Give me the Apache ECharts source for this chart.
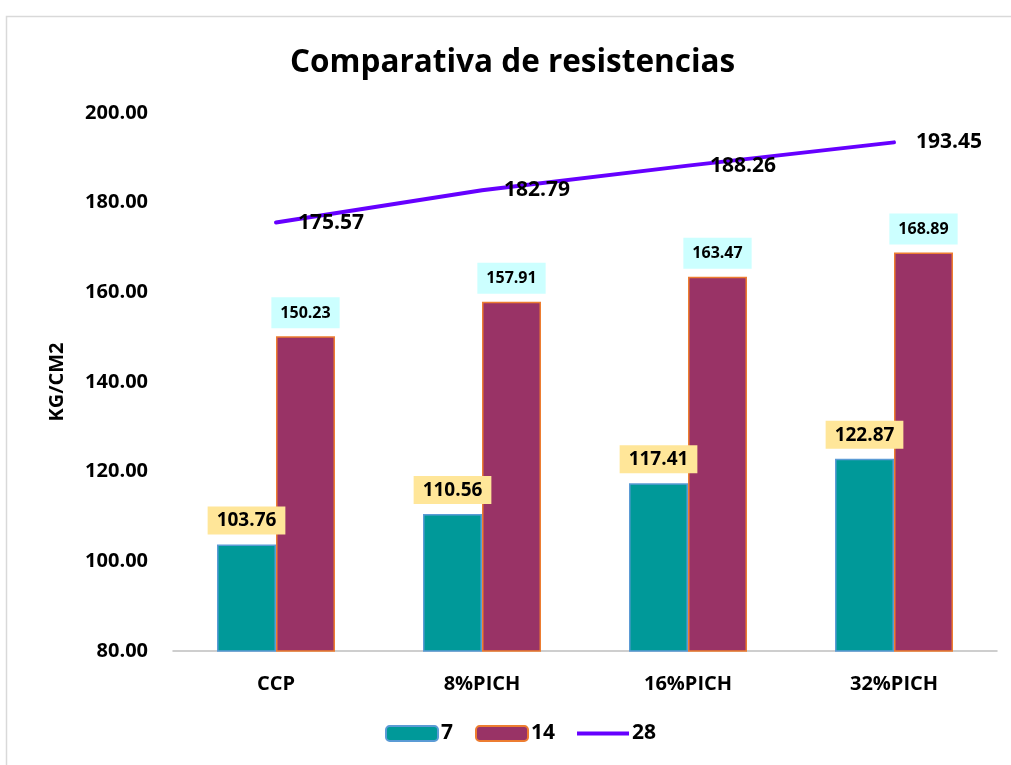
<!DOCTYPE html>
<html><head><meta charset="utf-8">
<script src="https://cdn.jsdelivr.net/npm/echarts@6/dist/echarts.min.js"></script>
<style>html,body{margin:0;padding:0;background:#fff}#c{width:1011px;height:765px}</style>
</head><body><div id="c"></div>
<script>
const categories = ['CCP', '8%PICH', '16%PICH', '32%PICH'];
const seriesNames = ['7', '14', '28'];
const values7 = [103.76, 110.56, 117.41, 122.87];
const values14 = [150.23, 157.91, 163.47, 168.89];
const values28 = [175.57, 182.79, 188.26, 193.45];
const yTicks = { min: 80, max: 200, interval: 20 };

const FONT = 'Open Sans';
const chart = echarts.init(document.getElementById('c'), null, { renderer: 'canvas' });
chart.setOption({
  animation: false,
  backgroundColor: '#fff',
  textStyle: { fontFamily: FONT },
  graphic: [{
    type: 'rect', left: 4, top: 14, silent: true,
    shape: { width: 1100, height: 800 },
    style: { fill: 'none', stroke: '#d9d9d9', lineWidth: 1.5 }
  }],
  title: {
    text: 'Comparativa de resistencias', left: 285, top: 42,
    textStyle: { fontFamily: FONT, fontWeight: 'bold', fontSize: 31.5, color: '#000' }
  },
  legend: {
    bottom: 16, left: 380, itemWidth: 52, itemHeight: 15, itemGap: 22,
    textStyle: { fontFamily: FONT, fontWeight: 'bold', fontSize: 21, color: '#000', padding: [0, 0, 0, -2] },
    data: [
      { name: seriesNames[0] },
      { name: seriesNames[1] },
      { name: seriesNames[2], icon: 'path://M0,0 L52,0 L52,4 L0,4 Z' }
    ]
  },
  grid: { left: 173, right: 14, top: 113, bottom: 114, containLabel: false },
  xAxis: {
    type: 'category', data: categories,
    axisLine: { lineStyle: { color: '#bfbfbf', width: 1.5 } },
    axisTick: { show: false },
    axisLabel: { fontFamily: FONT, fontWeight: 'bold', fontSize: 20, color: '#000', margin: 23 }
  },
  yAxis: {
    type: 'value', min: yTicks.min, max: yTicks.max, interval: yTicks.interval,
    name: 'KG/CM2', nameLocation: 'middle', nameGap: 106, nameRotate: 90,
    nameTextStyle: { fontFamily: FONT, fontWeight: 'bold', fontSize: 20, color: '#000' },
    axisLine: { show: false }, axisTick: { show: false }, splitLine: { show: false },
    axisLabel: { fontFamily: FONT, fontWeight: 'bold', fontSize: 20, color: '#000', margin: 25,
      formatter: v => v.toFixed(2) }
  },
  series: [
    {
      name: seriesNames[0], type: 'bar', data: values7, barWidth: 59, barGap: '0%',
      itemStyle: { color: '#009999', borderColor: '#5B9BD5', borderWidth: 1.5 },
      label: { show: true, position: 'top', distance: 10, formatter: p => p.value.toFixed(2),
        fontFamily: FONT, fontWeight: 'bold', fontSize: 19, color: '#000',
        backgroundColor: '#FFE699', padding: [5, 9, 4, 9] }
    },
    {
      name: seriesNames[1], type: 'bar', data: values14, barWidth: 59, barGap: '0%',
      itemStyle: { color: '#993366', borderColor: '#ED7D31', borderWidth: 1.5 },
      label: { show: true, position: 'top', distance: 8, formatter: p => p.value.toFixed(2),
        fontFamily: FONT, fontWeight: 'bold', fontSize: 16, color: '#000',
        backgroundColor: '#CCFFFF', padding: [8, 9, 7, 9] }
    },
    {
      name: seriesNames[2], type: 'line', data: values28, symbol: 'circle', symbolSize: 0.1,
      showSymbol: true,
      lineStyle: { color: '#6600FF', width: 4, cap: 'round' }, itemStyle: { color: '#6600FF' },
      label: { show: true, position: 'right', distance: 22, formatter: p => p.value.toFixed(2),
        fontFamily: FONT, fontWeight: 'bold', fontSize: 21, color: '#000' }
    }
  ]
});
</script></body></html>
